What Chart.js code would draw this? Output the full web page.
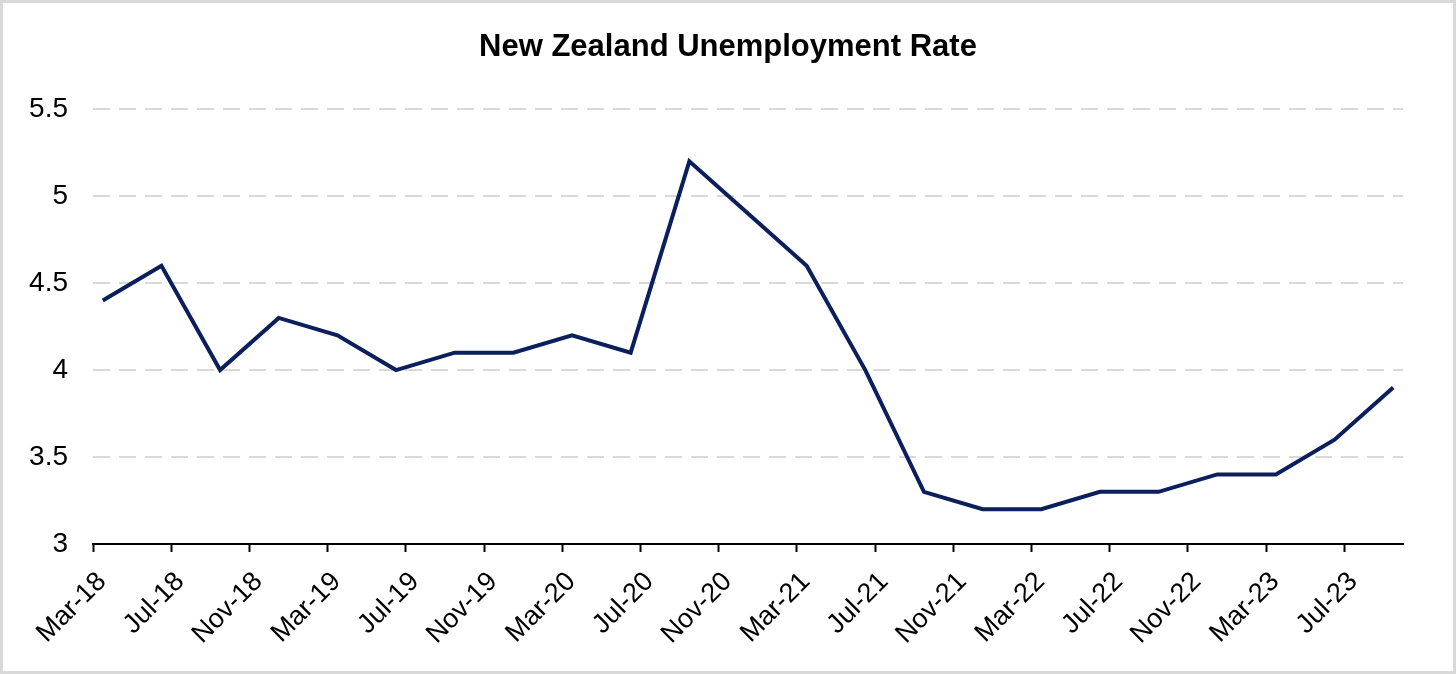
<!DOCTYPE html>
<html>
<head>
<meta charset="utf-8">
<title>New Zealand Unemployment Rate</title>
<script src="https://cdn.jsdelivr.net/npm/chart.js@4.4.0/dist/chart.umd.min.js"></script>
<style>
  html, body { margin: 0; padding: 0; background: #fff; }
  canvas { display: block; }
</style>
</head>
<body>
<canvas id="rateChart" width="1456" height="674"></canvas>
<script>
// quarterly readings, labelled by the month they fall in
const quarters = [
  "Mar-18", "Jun-18", "Sep-18", "Dec-18",
  "Mar-19", "Jun-19", "Sep-19", "Dec-19",
  "Mar-20", "Jun-20", "Sep-20", "Dec-20",
  "Mar-21", "Jun-21", "Sep-21", "Dec-21",
  "Mar-22", "Jun-22", "Sep-22", "Dec-22",
  "Mar-23", "Jun-23", "Sep-23",
];
const unemploymentRate = [
  4.4, 4.6, 4.0, 4.3,
  4.2, 4.0, 4.1, 4.1,
  4.2, 4.1, 5.2, 4.9,
  4.6, 4.0, 3.3, 3.2,
  3.2, 3.3, 3.3, 3.4,
  3.4, 3.6, 3.9,
];
const xTickLabels = [
  "Mar-18", "Jul-18", "Nov-18", "Mar-19", "Jul-19", "Nov-19",
  "Mar-20", "Jul-20", "Nov-20", "Mar-21", "Jul-21", "Nov-21",
  "Mar-22", "Jul-22", "Nov-22", "Mar-23", "Jul-23",
];
const yMin = 3;
const yMax = 5.5;
const yStep = 0.5;

const monthNames = ["Jan", "Feb", "Mar", "Apr", "May", "Jun", "Jul", "Aug", "Sep", "Oct", "Nov", "Dec"];
const fontFamily = "'Liberation Sans', Arial, sans-serif";

function monthNumber(label) {
  const [mon, yy] = label.split("-");
  return (2000 + Number(yy)) * 12 + monthNames.indexOf(mon);
}

// month axis like Excel's: each month is a slot, points sit in the middle of theirs
const axisStart = monthNumber(xTickLabels[0]);
const axisEnd = monthNumber(quarters[quarters.length - 1]) + 1 - axisStart;
const points = quarters.map((q, i) => ({
  x: monthNumber(q) - axisStart + 0.5,
  y: unemploymentRate[i],
}));

const frame = {
  id: "frame",
  beforeDraw(chart) {
    const ctx = chart.ctx;
    ctx.save();
    ctx.fillStyle = "#ffffff";
    ctx.fillRect(0, 0, chart.width, chart.height);
    ctx.restore();
  },
  afterDraw(chart) {
    const ctx = chart.ctx;
    ctx.save();
    ctx.strokeStyle = "#d9d9d9";
    ctx.lineWidth = 3;
    ctx.strokeRect(1.5, 1.5, chart.width - 3, chart.height - 3);
    ctx.restore();
  },
};

const rateChart = new Chart(document.getElementById("rateChart"), {
  type: "line",
  data: {
    datasets: [
      {
        label: "Unemployment rate",
        data: points,
        borderColor: "#0a1f5c",
        borderWidth: 4,
        pointRadius: 0,
        tension: 0,
        fill: false,
      },
    ],
  },
  options: {
    responsive: false,
    animation: false,
    layout: { padding: 0 },
    plugins: {
      legend: { display: false },
      tooltip: { enabled: false },
      title: {
        display: true,
        text: "New Zealand Unemployment Rate",
        color: "#000000",
        font: { family: fontFamily, size: 31, weight: "bold" },
        padding: { top: 29, bottom: 43 },
      },
    },
    scales: {
      x: {
        type: "linear",
        min: 0,
        max: axisEnd,
        afterBuildTicks: (scale) => {
          scale.ticks = xTickLabels.map((l) => ({ value: monthNumber(l) - axisStart }));
        },
        afterFit: (scale) => {
          scale.height = 130;
        },
        ticks: {
          autoSkip: false,
          minRotation: 45,
          maxRotation: 45,
          padding: 14,
          labelOffset: 9,
          color: "#000000",
          font: { family: fontFamily, size: 27 },
          callback: (value, index) => xTickLabels[index],
        },
        grid: {
          drawOnChartArea: false,
          drawTicks: true,
          tickLength: 8,
          tickColor: "#000000",
          tickWidth: 2,
        },
        border: { display: true, color: "#000000", width: 2 },
      },
      y: {
        min: yMin,
        max: yMax,
        afterFit: (scale) => {
          scale.width = 93;
        },
        ticks: {
          stepSize: yStep,
          padding: 25,
          color: "#000000",
          font: { family: fontFamily, size: 28 },
          callback: (value) => String(value),
        },
        grid: {
          drawTicks: false,
          color: "#d9d9d9",
          lineWidth: 2,
        },
        border: { display: false, dash: [17, 9] },
      },
      // empty right-hand margin so the title stays centred on the whole picture
      rightMargin: {
        position: "right",
        min: yMin,
        max: yMax,
        afterFit: (scale) => {
          scale.width = 53;
        },
        ticks: { display: false },
        grid: { display: false, drawTicks: false },
        border: { display: false },
      },
    },
  },
  plugins: [frame],
});
</script>
</body>
</html>
